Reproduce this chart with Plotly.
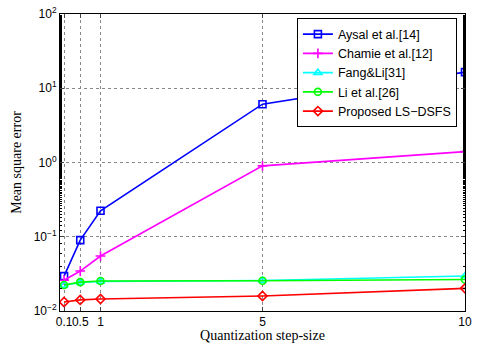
import plotly.graph_objects as go

x = [0.1, 0.5, 1, 5, 10]
aysal = [0.0295, 0.09, 0.224, 6.1, 16.5]
chamie = [0.026, 0.0345, 0.055, 0.9, 1.4]
fang = [0.0222, 0.0242, 0.025, 0.0258, 0.0296]
li = [0.0224, 0.0245, 0.0253, 0.0255, 0.0265]
proposed = [0.0132, 0.0141, 0.0145, 0.0159, 0.0202]
names = ["Aysal et al.[14]", "Chamie et al.[12]", "Fang&Li[31]", "Li et al.[26]", "Proposed LS\u2212DSFS"]
colors = ["#0000ff", "#ff00ff", "#00ffff", "#00ff00", "#ff0000"]
symbols = ["square-open", "cross-thin-open", "triangle-up-open", "circle-open", "diamond-open"]
xticks = [0.1, 0.5, 1, 5, 10]
xticklabels = ["0.1", "0.5", "1", "5", "10"]
yticks = [0.01, 0.1, 1, 10, 100]
yticklabels = ["10<sup>\u22122</sup>", "10<sup>\u22121</sup>", "10<sup>0</sup>", "10<sup>1</sup>", "10<sup>2</sup>"]

fig = go.Figure()
for ys, n, c, s in zip([aysal, chamie, fang, li, proposed], names, colors, symbols):
    fig.add_trace(go.Scatter(x=x, y=ys, name=n, mode="lines+markers",
                             line=dict(color=c, width=1.6),
                             marker=dict(symbol=s, size=7, color=c, line=dict(color=c, width=1.6))))

fig.update_layout(
    width=478, height=343, margin=dict(l=60, r=13, t=14, b=32, autoexpand=False),
    paper_bgcolor="white", plot_bgcolor="white",
    font=dict(family="Liberation Sans, Arial", size=12, color="black"),
    legend=dict(x=0.98, y=0.985, xanchor="right", yanchor="top", bordercolor="black", borderwidth=1,
                bgcolor="white", font=dict(size=12.5), tracegroupgap=0, itemwidth=30),
    showlegend=True,
)
fig.update_xaxes(range=[0, 10], tickvals=xticks, ticktext=xticklabels, ticks="inside", ticklen=4,
                 tickangle=0, automargin=False,
                 showline=True, linecolor="black", linewidth=1, mirror="ticks",
                 showgrid=True, gridcolor="#888", griddash="dot", gridwidth=1, zeroline=False,
                 title=dict(text="Quantization step-size", font=dict(family="Liberation Serif, Times New Roman", size=14), standoff=5))
fig.update_yaxes(type="log", range=[-2, 2], tickvals=yticks, ticktext=yticklabels, ticks="inside", ticklen=4,
                 automargin=False,
                 showline=True, linecolor="black", linewidth=1, mirror="ticks",
                 showgrid=True, gridcolor="#888", griddash="dot", gridwidth=1,
                 minor=dict(ticks="inside", ticklen=2, tickcolor="black", showgrid=False),
                 title=dict(text="Mean square error", font=dict(family="Liberation Serif, Times New Roman", size=14), standoff=8))
fig.write_html("out.html")
